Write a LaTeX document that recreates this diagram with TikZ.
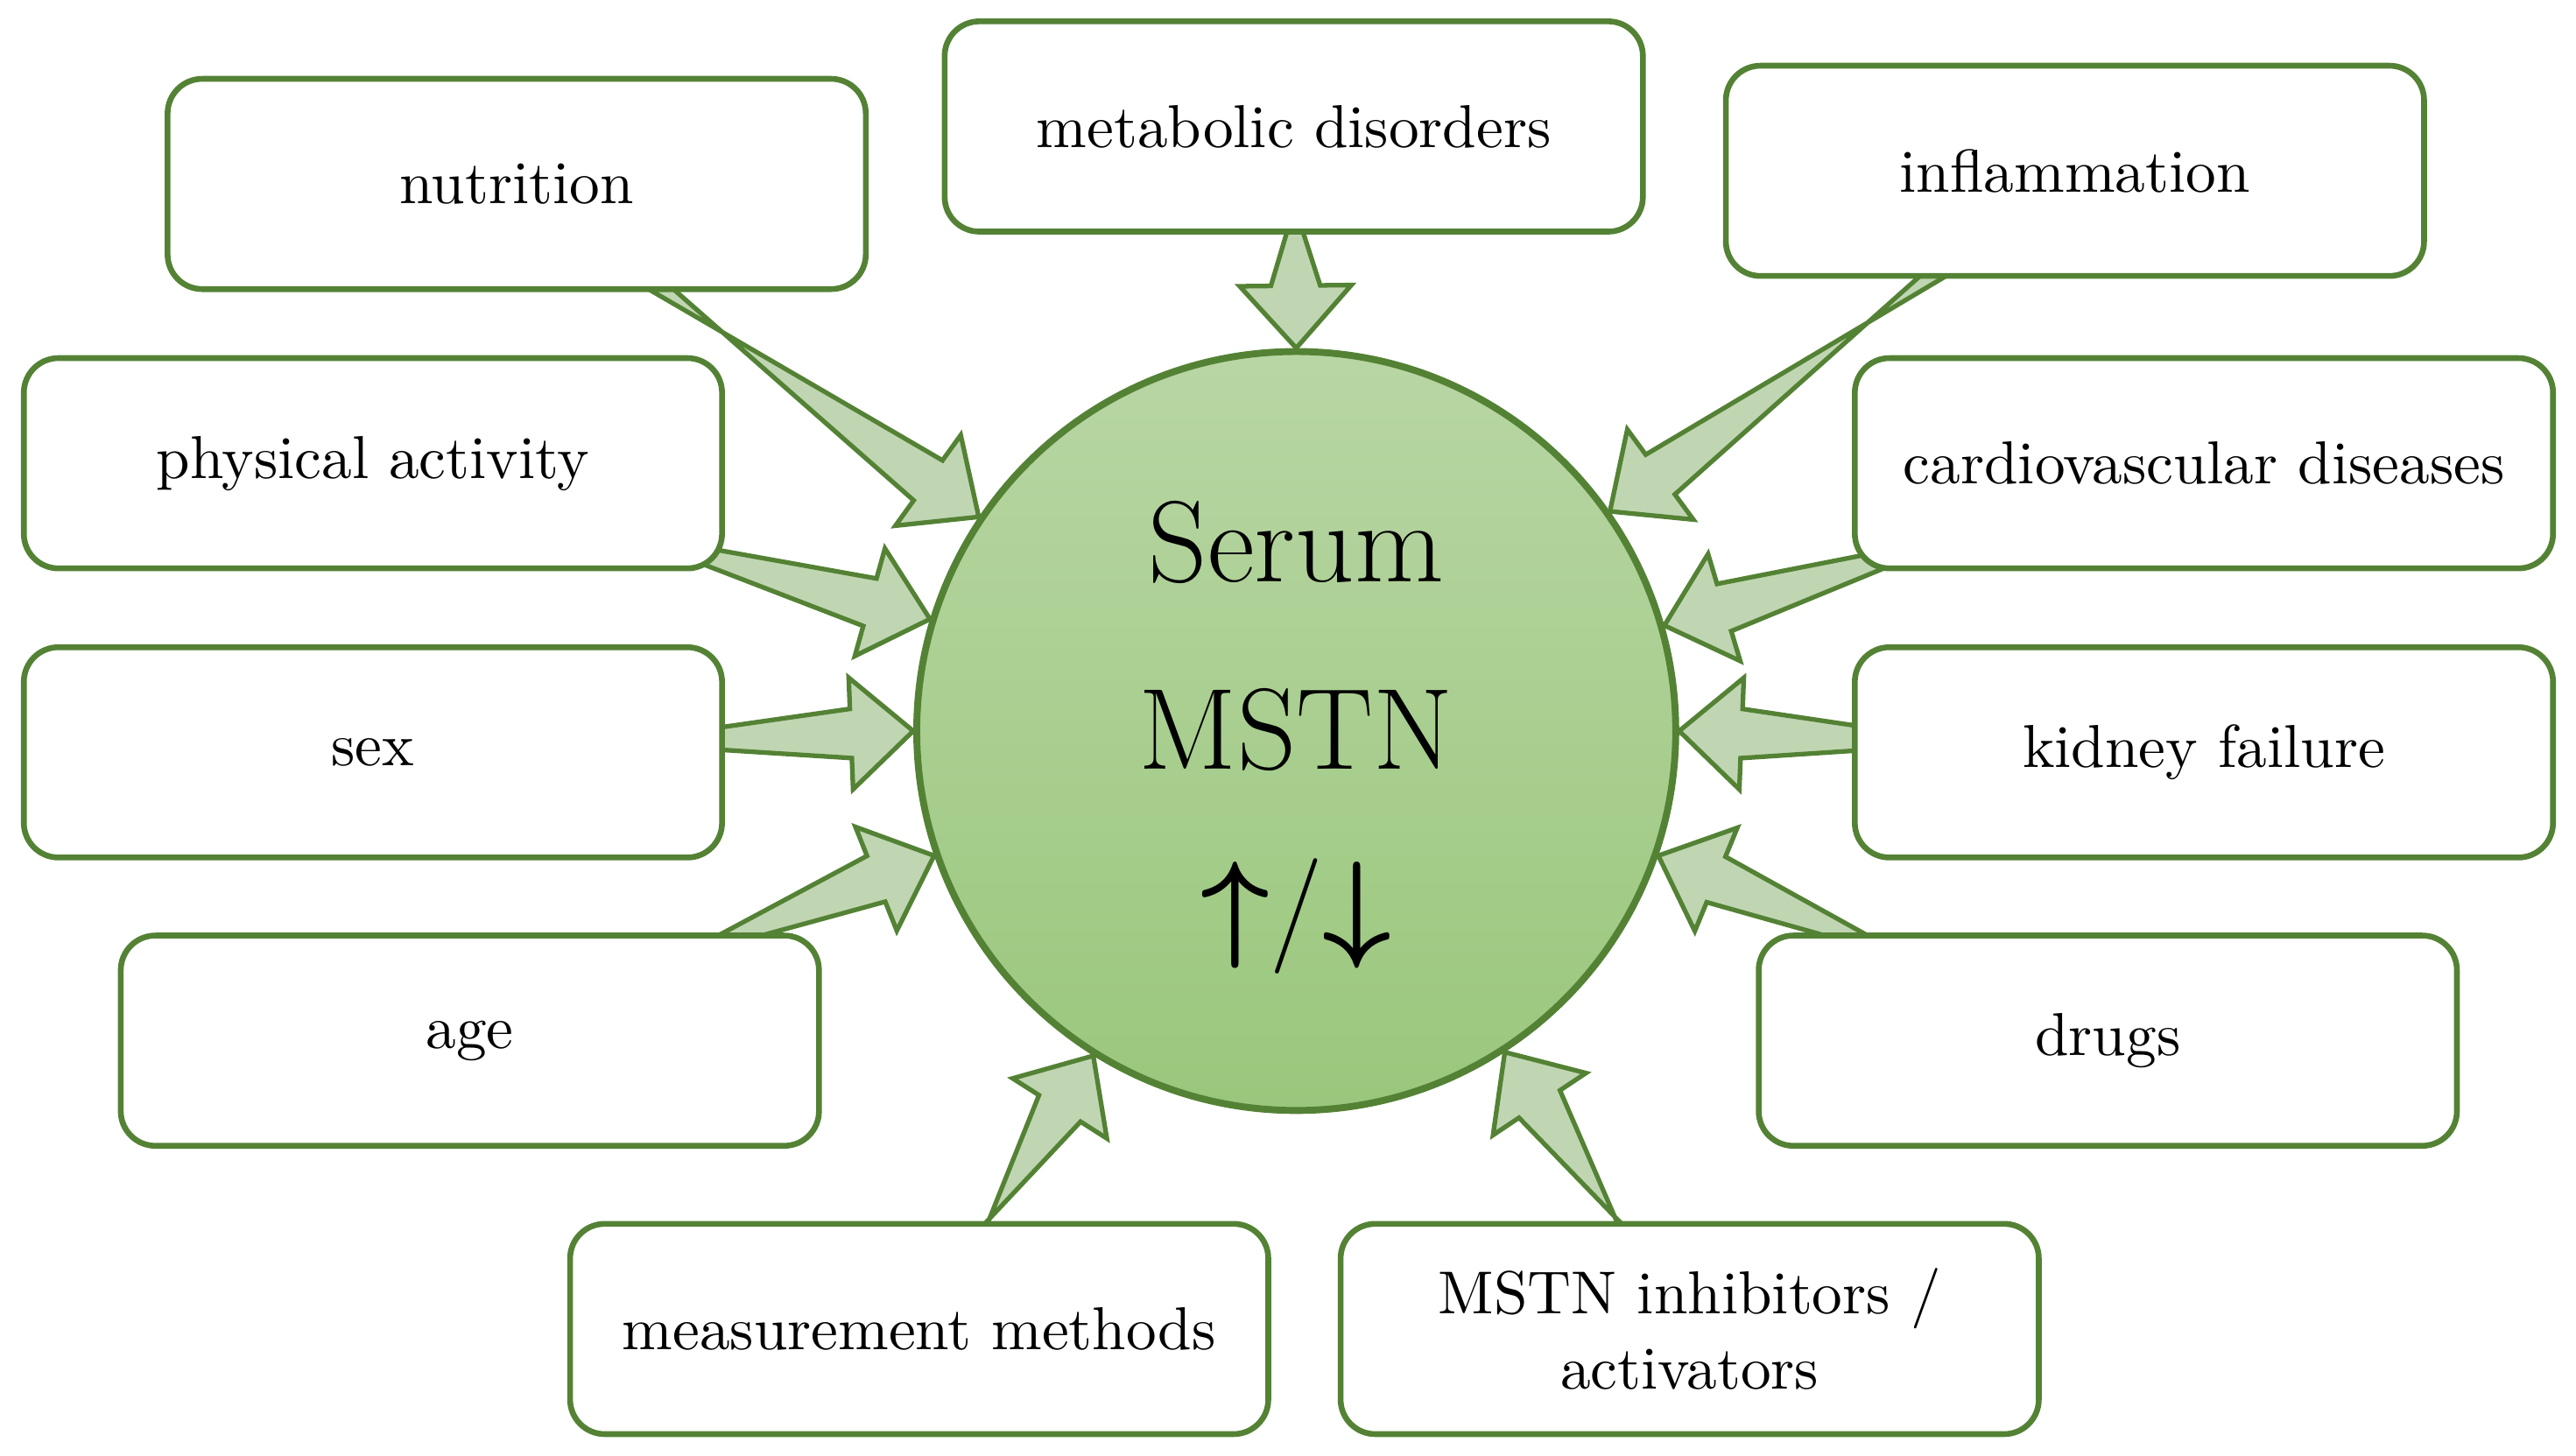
\documentclass[tikz,border=0pt]{standalone}
\usepackage{amsmath,bm}
\usetikzlibrary{calc}
\pgfdeclarelayer{back}
\pgfsetlayers{back,main}
\definecolor{edge}{RGB}{84,130,53}
\definecolor{shaft}{RGB}{192,214,178}
\definecolor{ballTop}{RGB}{184,214,164}
\definecolor{ballBot}{RGB}{154,199,124}
% block arrow from #1 to #2
\newcommand{\flow}[2]{%
  \coordinate (h) at ($(#2)!0.38cm!(#1)$);
  \filldraw[arrowfill] ($(#1)!0.15cm!90:(#2)$) -- ($(h)!0.15cm!-90:(#2)$)
    -- ($(h)!0.34cm!-90:(#2)$) -- (#2) -- ($(h)!0.34cm!90:(#2)$)
    -- ($(h)!0.15cm!90:(#2)$) -- ($(#1)!0.15cm!-90:(#2)$) -- cycle;}
\begin{document}
\begin{tikzpicture}[
  factor/.style={draw=edge, line width=1pt, fill=white, rounded corners=6pt,
    minimum width=4.25cm, minimum height=1.28cm, align=center,
    font=\fontsize{10.5}{13}\selectfont},
  arrowfill/.style={fill=shaft, draw=edge, line width=0.8pt, line join=miter}]
\useasboundingbox (0,0) rectangle (15.68,8.86);

% central circle
\node[circle, draw=edge, line width=1.2pt, minimum size=4.62cm,
  top color=ballTop, bottom color=ballBot] (serum) at (7.89,4.41) {};

% factor boxes
\node[factor] (nutrition) at (3.145,7.74) {nutrition};
\node[factor] (metabolic) at (7.875,8.09) {metabolic disorders};
\node[factor] (inflam) at (12.63,7.82) {inflammation};
\node[factor] (physical) at (2.27,6.04) {physical activity};
\node[factor] (cardio) at (13.415,6.04) {cardiovascular diseases};
\node[factor] (sex) at (2.27,4.28) {sex};
\node[factor] (kidney) at (13.415,4.28) {kidney failure};
\node[factor] (age) at (2.86,2.525) {age};
\node[factor] (drugs) at (12.83,2.525) {drugs};
\node[factor] (measure) at (5.595,0.77) {measurement methods};
\node[factor] (inhib) at (10.285,0.77) {MSTN inhibitors /\\activators};

% arrows, below the boxes
\begin{pgfonlayer}{back}
\flow{nutrition.center}{serum.146}
\flow{metabolic.center}{serum.90}
\flow{inflam.center}{serum.35}
\flow{physical.center}{serum.163}
\flow{cardio.center}{serum.16}
\flow{sex.center}{serum.180}
\flow{kidney.center}{serum.0}
\flow{age.center}{serum.199}
\flow{drugs.center}{serum.341}
\flow{measure.center}{serum.238}
\flow{inhib.center}{serum.303}
\end{pgfonlayer}

% circle text
\node[font=\fontsize{20}{24}\selectfont] (title) at (7.89,5.56) {Serum};
\node[font=\fontsize{20}{24}\selectfont] (mstn) at (7.89,4.42) {MSTN};
\node[font=\fontsize{20}{24}\selectfont] (updown) at (7.89,3.28) {$\bm{\uparrow}$/$\bm{\downarrow}$};
\end{tikzpicture}
\end{document}
